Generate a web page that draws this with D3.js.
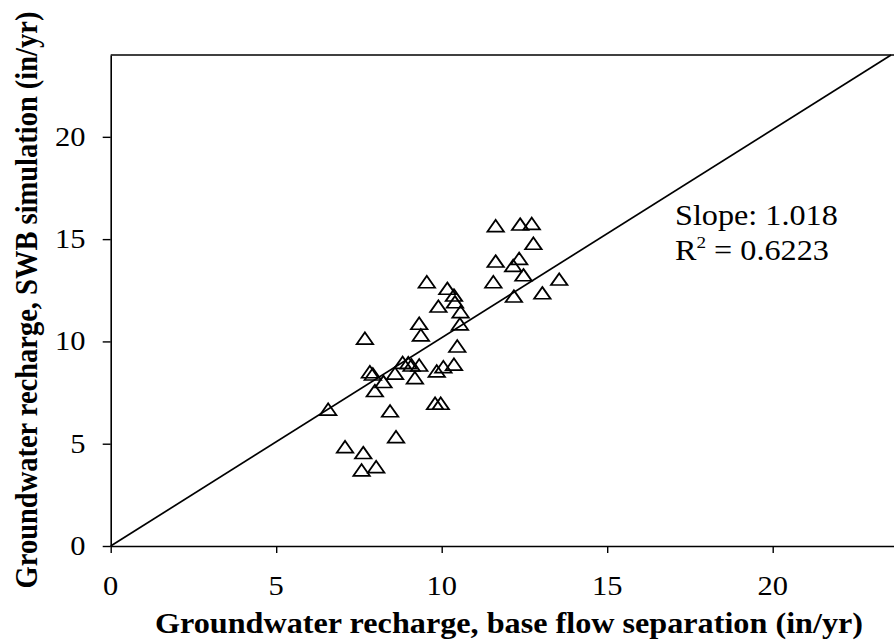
<!DOCTYPE html>
<html>
<head>
<meta charset="utf-8">
<script src="https://cdn.jsdelivr.net/npm/d3@7"></script>
<style>
  body { margin: 0; background: #fff; }
  svg { display: block; }
</style>
</head>
<body>
<svg id="chart" width="894" height="641"></svg>
<script>
// base flow separation (x) vs SWB simulation (y), in/yr
const baseFlow = [11.63, 12.37, 12.72, 12.77, 11.63, 12.34, 12.16, 12.47, 11.56, 13.55,
    12.18, 13.04, 9.55, 10.17, 10.37, 10.40, 9.90, 10.57, 9.32, 10.55,
    9.37, 7.68, 10.47, 7.83, 7.92, 8.82, 8.99, 9.09, 9.32, 8.59,
    9.85, 10.05, 10.37, 9.19, 8.24, 7.98, 6.57, 8.44, 9.80, 9.97,
    8.62, 7.08, 7.63, 7.58, 8.02];
const swbSim = [15.65, 15.73, 15.76, 14.79, 13.92, 14.05, 13.71, 13.25, 12.91, 13.04,
    12.21, 12.37, 12.91, 12.59, 12.26, 11.93, 11.72, 11.45, 10.88, 10.85,
    10.31, 10.15, 9.77, 8.51, 8.40, 8.97, 8.95, 8.84, 8.84, 8.44,
    8.55, 8.76, 8.88, 8.22, 8.03, 7.59, 6.68, 6.60, 6.97, 6.97,
    5.34, 4.85, 4.56, 3.71, 3.87];
const xTicks = [0, 5, 10, 15, 20];
const yTicks = [0, 5, 10, 15, 20];
const slope = 1.018;
const rSquared = "0.6223";

const svg = d3.select("#chart");
const font = "Liberation Serif, Times New Roman, serif";
const stretch = 1.13; // the source figure is a bit wider than tall

const x = d3.scaleLinear().domain([0, 24]).range([110.7, 905.1]);
const y = d3.scaleLinear().domain([0, 24]).range([546, 55]);

// top border
svg.append("line")
    .attr("x1", x(0)).attr("x2", x(24))
    .attr("y1", y(24)).attr("y2", y(24))
    .attr("stroke", "#000").attr("stroke-width", 1.6);

// axes: lines and ticks from d3, labels placed below by hand
const xAxis = svg.append("g")
    .attr("transform", `translate(0,${y(0)})`)
    .call(d3.axisBottom(x).tickValues(xTicks).tickSize(7).tickFormat("").tickSizeOuter(0));
const yAxis = svg.append("g")
    .attr("transform", `translate(${x(0)},0)`)
    .call(d3.axisLeft(y).tickValues(yTicks).tickSize(8).tickFormat("").tickSizeOuter(0));

[xAxis, yAxis].forEach(g => {
    g.select(".domain").attr("stroke", "#000").attr("stroke-width", 1.6);
    g.selectAll(".tick line").attr("stroke", "#000").attr("stroke-width", 1.4);
});

svg.append("g").selectAll("text")
    .data(xTicks)
    .join("text")
    .attr("transform", d => `translate(${x(d)},595) scale(${stretch},1)`)
    .attr("text-anchor", "middle")
    .attr("font-family", font)
    .attr("font-size", 27)
    .attr("fill", "#000")
    .text(d => d);

svg.append("g").selectAll("text")
    .data(yTicks)
    .join("text")
    .attr("transform", d => `translate(85.5,${y(d) + 9}) scale(${stretch},1)`)
    .attr("text-anchor", "end")
    .attr("font-family", font)
    .attr("font-size", 27)
    .attr("fill", "#000")
    .text(d => d);

// regression line through the origin
const xEnd = 24 / slope;
svg.append("line")
    .attr("x1", x(0)).attr("y1", y(0))
    .attr("x2", x(xEnd)).attr("y2", y(slope * xEnd))
    .attr("stroke", "#000").attr("stroke-width", 1.7);

// open triangle markers (box-centred like the spreadsheet markers)
const tri = d3.symbol().type(d3.symbolTriangle).size(125);
svg.append("g").selectAll("path")
    .data(d3.range(baseFlow.length))
    .join("path")
    .attr("d", tri)
    .attr("transform", i => `translate(${x(baseFlow[i])},${y(swbSim[i]) + 1.9}) scale(0.97,0.8)`)
    .attr("fill", "none")
    .attr("stroke", "#000")
    .attr("stroke-width", 2);

// annotation
const note = svg.append("g")
    .attr("transform", `translate(675,0) scale(${stretch},1)`)
    .attr("font-family", font)
    .attr("font-size", 28.5)
    .attr("fill", "#000");
note.append("text").attr("x", 0).attr("y", 225).text("Slope: " + slope.toFixed(3));
const r2 = note.append("text").attr("x", 0).attr("y", 260);
r2.append("tspan").text("R");
r2.append("tspan").attr("dy", -12).attr("font-size", 17).text("2");
r2.append("tspan").attr("dy", 12).text(" = " + rSquared);

// axis titles
svg.append("text")
    .attr("transform", `translate(509,633) scale(${stretch},1)`)
    .attr("text-anchor", "middle")
    .attr("font-family", font)
    .attr("font-weight", "bold")
    .attr("font-size", 28.5)
    .text("Groundwater recharge, base flow separation (in/yr)");

svg.append("text")
    .attr("transform", `translate(37,300) scale(${stretch},1) rotate(-90)`)
    .attr("text-anchor", "middle")
    .attr("font-family", font)
    .attr("font-weight", "bold")
    .attr("font-size", 28.5)
    .text("Groundwater recharge, SWB simulation (in/yr)");
</script>
</body>
</html>
